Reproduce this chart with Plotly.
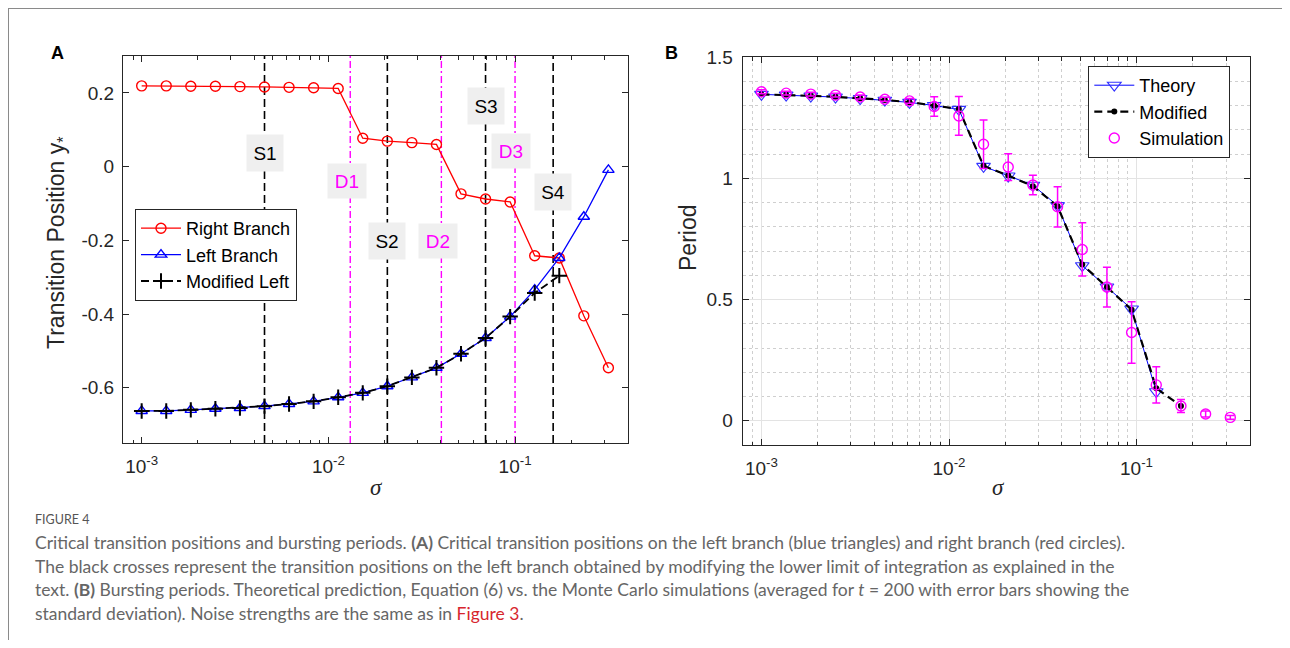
import numpy as np
import plotly.graph_objects as go

# page offset (default body margin of the html page)
OFF = 8
W, H = 1274, 632


def fx(px):
    return (px - OFF) / W


def fy(py):
    return 1 - (py - OFF) / H


# ---------------- data ----------------
sigma = [0.001, 0.001354, 0.001833, 0.002482, 0.003360, 0.004549, 0.006158, 0.008338,
         0.011288, 0.015283, 0.020691, 0.028012, 0.037927, 0.051348, 0.069519, 0.094121,
         0.127427, 0.172521, 0.233572, 0.316228]

right_branch = [0.219, 0.219, 0.218, 0.218, 0.217, 0.216, 0.215, 0.214, 0.212, 0.077,
                0.069, 0.065, 0.060, -0.074, -0.088, -0.096, -0.242, -0.248, -0.405, -0.546]
left_branch = [-0.663, -0.663, -0.660, -0.657, -0.655, -0.650, -0.644, -0.637, -0.626, -0.614,
               -0.596, -0.572, -0.546, -0.508, -0.465, -0.407, -0.334, -0.248, -0.136, -0.009]
modified_left = [-0.663, -0.663, -0.660, -0.657, -0.655, -0.650, -0.644, -0.637, -0.626, -0.614,
                 -0.596, -0.572, -0.546, -0.508, -0.465, -0.407, -0.343, -0.296]

s_lines = [0.00455, 0.0207, 0.0695, 0.16]
s_labels = ["S1", "S2", "S3", "S4"]
s_label_y = [0.038, -0.201, 0.164, -0.068]
d_lines = [0.0131, 0.0403, 0.1]
d_labels = ["D1", "D2", "D3"]
d_label_y = [-0.039, -0.203, 0.042]

theory = [1.347, 1.344, 1.340, 1.336, 1.330, 1.323, 1.314, 1.301, 1.285, 1.050,
          1.010, 0.972, 0.888, 0.640, 0.552, 0.461, 0.120]
modified_period = [1.347, 1.345, 1.341, 1.337, 1.331, 1.324, 1.315, 1.300, 1.287, 1.052,
                   1.012, 0.968, 0.885, 0.645, 0.552, 0.458, 0.134, 0.061]
simulation = [1.358, 1.352, 1.348, 1.344, 1.336, 1.327, 1.320, 1.297, 1.258, 1.141,
              1.047, 0.973, 0.883, 0.707, 0.552, 0.364, 0.148, 0.061, 0.028, 0.014]
sim_err = [0.008, 0.008, 0.008, 0.008, 0.008, 0.008, 0.010, 0.040, 0.080, 0.100,
           0.055, 0.040, 0.083, 0.110, 0.082, 0.127, 0.075, 0.027, 0.012, 0.008]

major_x = [1e-3, 1e-2, 1e-1]
major_x_text = ["10<sup>-3</sup>", "10<sup>-2</sup>", "10<sup>-1</sup>"]
minor_x = [8e-4, 9e-4] + [k * 1e-3 for k in range(2, 10)] + [k * 1e-2 for k in range(2, 10)] + [2e-1, 3e-1]
yA_ticks = [-0.6, -0.4, -0.2, 0, 0.2]
yA_text = ["-0.6", "-0.4", "-0.2", "0", "0.2"]
yB_ticks = [0, 0.5, 1, 1.5]
yB_text = ["0", "0.5", "1", "1.5"]

YA = [-0.75, 0.3]
YB = [-0.1, 1.5]
XR = [-3.1, -0.395]

FONT = "Liberation Sans"
AX = "#262626"

fig = go.Figure()

# ---------------- panel A ----------------
for s in s_lines:
    fig.add_trace(go.Scatter(x=[s, s], y=YA, mode="lines", showlegend=False, hoverinfo="skip",
                             line=dict(color="black", width=1.6, dash="8px,4px"),
                             xaxis="x", yaxis="y"))
for d in d_lines:
    fig.add_trace(go.Scatter(x=[d, d], y=YA, mode="lines", showlegend=False, hoverinfo="skip",
                             line=dict(color="#ff00ff", width=1.4, dash="7px,3px,2px,3px"),
                             xaxis="x", yaxis="y"))

fig.add_trace(go.Scatter(x=sigma, y=right_branch, mode="lines+markers", name="Right Branch",
                         line=dict(color="#ff0000", width=1.3),
                         marker=dict(symbol="circle-open", size=10, color="#ff0000", line=dict(width=1.4)),
                         xaxis="x", yaxis="y", legend="legend"))
fig.add_trace(go.Scatter(x=sigma, y=left_branch, mode="lines+markers", name="Left Branch",
                         line=dict(color="#0000ff", width=1.3),
                         marker=dict(symbol="triangle-up-open", size=10, color="#0000ff", line=dict(width=1.4)),
                         xaxis="x", yaxis="y", legend="legend"))
fig.add_trace(go.Scatter(x=sigma[:len(modified_left)], y=modified_left, mode="lines+markers", name="Modified Left",
                         line=dict(color="black", width=1.8, dash="8px,4px"),
                         marker=dict(symbol="cross-thin", size=11, color="black", line=dict(width=2, color="black")),
                         xaxis="x", yaxis="y", legend="legend"))

# ---------------- panel B ----------------
fig.add_trace(go.Scatter(x=sigma[:len(theory)], y=theory, mode="lines+markers", name="Theory",
                         line=dict(color="#0000ff", width=1),
                         marker=dict(symbol="triangle-down-open", size=12, color="#3333ff", line=dict(width=1.1)),
                         xaxis="x2", yaxis="y2", legend="legend2"))
fig.add_trace(go.Scatter(x=sigma[:len(modified_period)], y=modified_period, mode="lines+markers", name="Modified",
                         line=dict(color="black", width=2.2, dash="8px,5px"),
                         marker=dict(symbol="circle", size=6, color="black"),
                         xaxis="x2", yaxis="y2", legend="legend2"))
fig.add_trace(go.Scatter(x=sigma, y=simulation, mode="markers", name="Simulation",
                         marker=dict(symbol="circle-open", size=10, color="#ff00ff", line=dict(width=1.4)),
                         error_y=dict(type="data", array=sim_err, color="#ff00ff", thickness=1.5, width=4),
                         xaxis="x2", yaxis="y2", legend="legend2"))


# ---------------- axes ----------------
def xaxis_common(domain, anchor, grid):
    return dict(type="log", range=XR, domain=domain, anchor=anchor,
                tickmode="array", tickvals=major_x, ticktext=major_x_text,
                ticks="inside", ticklen=6, tickcolor=AX, mirror="allticks",
                showline=True, linecolor=AX, linewidth=1, ticklabelstandoff=6,
                tickfont=dict(family=FONT, size=19, color=AX),
                showgrid=grid, gridcolor="#e3e3e3", gridwidth=1, zeroline=False,
                minor=dict(tickmode="array", tickvals=minor_x, ticks="inside", ticklen=3.5,
                           tickcolor=AX, showgrid=grid, gridcolor="#cfcfcf", griddash="dot", gridwidth=1))


fig.update_layout(
    xaxis=xaxis_common([fx(123), fx(628)], "y", False),
    yaxis=dict(range=YA, domain=[fy(443), fy(56)], anchor="x",
               tickmode="array", tickvals=yA_ticks, ticktext=yA_text,
               ticks="inside", ticklen=6, tickcolor=AX, mirror="allticks",
               showline=True, linecolor=AX, linewidth=1, showgrid=False, zeroline=False,
               ticklabelstandoff=4,
               tickfont=dict(family=FONT, size=19, color=AX)),
    xaxis2=xaxis_common([fx(742.7), fx(1250)], "y2", True),
    yaxis2=dict(range=YB, domain=[fy(445), fy(57.3)], anchor="x2",
                tickmode="array", tickvals=yB_ticks, ticktext=yB_text,
                ticks="inside", ticklen=6, tickcolor=AX, mirror="allticks",
                showline=True, linecolor=AX, linewidth=1, zeroline=False,
                showgrid=True, gridcolor="#e3e3e3", gridwidth=1, ticklabelstandoff=5,
                tickfont=dict(family=FONT, size=19, color=AX),
                minor=dict(dtick=0.1, ticks="", showgrid=True, gridcolor="#cfcfcf",
                           griddash="dot", gridwidth=1)),
)

fig.update_layout(
    width=W, height=H, autosize=False,
    margin=dict(l=0, r=0, t=0, b=0, autoexpand=False),
    paper_bgcolor="white", plot_bgcolor="white",
    legend=dict(x=fx(135), y=fy(209), xanchor="left", yanchor="top",
                bordercolor=AX, borderwidth=1, bgcolor="white",
                font=dict(family=FONT, size=18, color="black"), itemwidth=40,
                tracegroupgap=0),
    legend2=dict(x=fx(1088.3), y=fy(66), xanchor="left", yanchor="top",
                 bordercolor=AX, borderwidth=1, bgcolor="white",
                 font=dict(family=FONT, size=18, color="black"), itemwidth=40,
                 tracegroupgap=0),
)

ann = []
box = "#efefef"
for s, lab, yy in zip(s_lines, s_labels, s_label_y):
    ann.append(dict(x=np.log10(s), y=yy, xref="x", yref="y", text=lab, showarrow=False,
                    xanchor="center", yanchor="middle",
                    font=dict(family=FONT, size=19, color="black"), bgcolor=box,
                    width=36, height=36, borderpad=0))
for d, lab, yy in zip(d_lines, d_labels, d_label_y):
    ann.append(dict(x=np.log10(d) - 0.02, y=yy, xref="x", yref="y", text=lab, showarrow=False,
                    xanchor="center", yanchor="middle",
                    font=dict(family=FONT, size=19, color="#ff00ff"), bgcolor=box,
                    width=38, height=34, borderpad=0))


def centered(px, py, text, size, family=FONT, color=AX, angle=0):
    return dict(x=fx(px), y=fy(py), xref="paper", yref="paper", text=text, showarrow=False,
                xanchor="center", yanchor="middle", textangle=angle,
                font=dict(family=family, size=size, color=color))


# axis titles
ann.append(centered(57, 243, "Transition Position y<sub>*</sub>", 23, angle=-90))
ann.append(centered(688, 238, "Period", 23, angle=-90))
ann.append(centered(376, 487, "<i>σ</i>", 23, family="Liberation Serif"))
ann.append(centered(998, 487, "<i>σ</i>", 23, family="Liberation Serif"))
# panel letters
ann.append(centered(57.5, 53, "<b>A</b>", 18, color="black"))
ann.append(centered(671.7, 53, "<b>B</b>", 18, color="black"))

# caption
CAP = "#666666"
ann.append(dict(x=fx(33), y=fy(519), xref="paper", yref="paper", xanchor="left", yanchor="middle",
                text="FIGURE 4", showarrow=False, font=dict(family="Lato", size=12.5, color="#555555")))
cap_lines = [
    "Critical transition positions and bursting periods. <b>(A)</b> Critical transition positions on the left branch (blue triangles) and right branch (red circles).",
    "The black crosses represent the transition positions on the left branch obtained by modifying the lower limit of integration as explained in the",
    "text. <b>(B)</b> Bursting periods. Theoretical prediction, Equation (6) vs. the Monte Carlo simulations (averaged for <i>t</i> = 200 with error bars showing the",
    "standard deviation). Noise strengths are the same as in <span style='color:#d7262e'>Figure 3</span>.",
]
cap_y = [542.7, 566, 589.5, 613.3]
for t, yy in zip(cap_lines, cap_y):
    ann.append(dict(x=fx(33), y=fy(yy), xref="paper", yref="paper", xanchor="left", yanchor="middle",
                    text=t, showarrow=False, font=dict(family="Lato", size=17.5, color=CAP)))

fig.update_layout(annotations=ann)

# outer frame
fig.update_layout(shapes=[
    dict(type="line", xref="paper", yref="paper", x0=0, x1=1, y0=1 - 0.5 / H, y1=1 - 0.5 / H,
         line=dict(color="#8a8a8a", width=1)),
    dict(type="line", xref="paper", yref="paper", x0=0.5 / W, x1=0.5 / W, y0=0, y1=1 - 0.5 / H,
         line=dict(color="#8a8a8a", width=1)),
])

fig.write_html("out.html")
